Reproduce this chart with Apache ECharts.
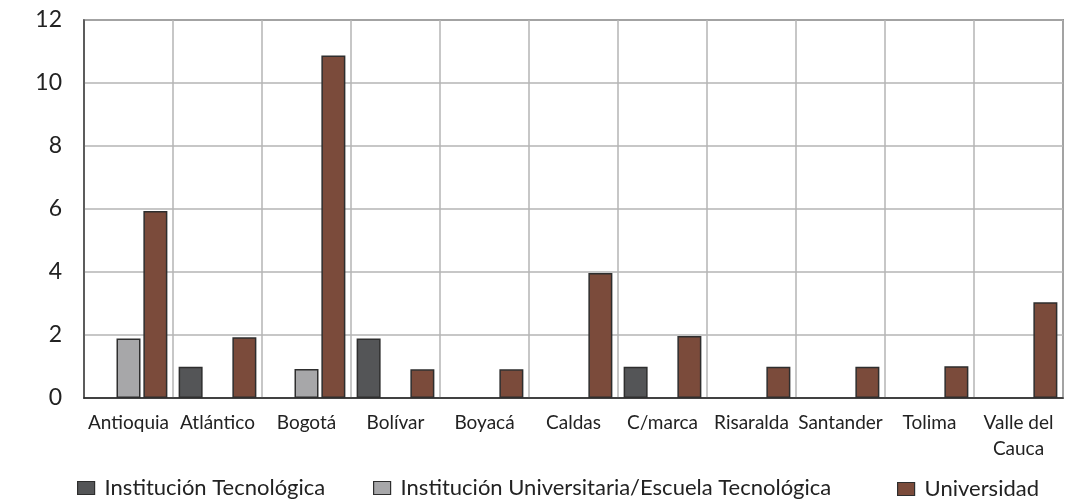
<!DOCTYPE html>
<html>
<head>
<meta charset="utf-8">
<script src="https://cdn.jsdelivr.net/npm/echarts@6/dist/echarts.min.js"></script>
<style>
  html, body { margin: 0; padding: 0; background: #fff; }
  #myCharts { width: 1068px; height: 501px; }
</style>
</head>
<body>
<div id="myCharts"></div>
<script>
    // categorias (departamentos)
    const departamentos = ['Antioquia', 'Atlántico', 'Bogotá', 'Bolívar', 'Boyacá', 'Caldas',
        'C/marca', 'Risaralda', 'Santander', 'Tolima', 'Valle del\nCauca'];
    const seriesNames = ['Institución Tecnológica', 'Institución Universitaria/Escuela Tecnológica', 'Universidad'];
    // valores
    const instTecnologica = [0, 0.99, 0, 1.89, 0, 0, 0.99, 0, 0, 0, 0];
    const instUniversitaria = [1.89, 0, 0.92, 0, 0, 0, 0, 0, 0, 0, 0];
    const universidad = [5.94, 1.93, 10.87, 0.91, 0.91, 3.97, 1.97, 0.99, 0.99, 1.01, 3.04];
    const yTicks = [0, 2, 4, 6, 8, 10, 12];

    const FONT = 'Lato';
    const colors = ['#545557', '#a7a7a9', '#7b4b3b'];

    function barSerie(name, data, color) {
        return {
            name: name,
            type: 'bar',
            barWidth: 24,
            barGap: '12%',
            animation: false,
            itemStyle: {
                color: color,
                borderColor: '#2e2e2e',
                borderWidth: 1.5
            },
            // los ceros no se dibujan
            data: data.map(v => v === 0 ? '-' : v)
        };
    }

    function legendAt(name, left, top, padTop) {
        return {
            data: [name],
            left: left,
            top: top,
            padding: 0,
            icon: 'rect',
            itemWidth: 17,
            itemHeight: 13,
            itemStyle: { borderColor: '#2e2e2e', borderWidth: 1.2 },
            textStyle: {
                fontFamily: FONT, fontSize: 22, lineHeight: 26, color: '#222',
                padding: [padTop, 0, 0, 5]
            }
        };
    }

    const myCharts = echarts.init(document.getElementById('myCharts'));
    let options = {
        backgroundColor: '#fff',
        grid: {
            left: 84, right: 5, top: 20, bottom: 103,
            show: true,
            borderColor: '#444',
            borderWidth: 1.5
        },
        legend: [
            legendAt(seriesNames[0], 77, 475, 0),
            legendAt(seriesNames[1], 373, 475, 0),
            legendAt(seriesNames[2], 897, 470, 12)
        ],
        xAxis: [{
            type: 'category',
            data: departamentos,
            boundaryGap: true,
            axisTick: { show: false },
            axisLine: { lineStyle: { color: '#222', width: 1.5 } },
            axisLabel: {
                interval: 0,
                margin: 12,
                fontFamily: FONT,
                fontSize: 19,
                lineHeight: 26,
                color: '#222'
            },
            splitLine: { show: true, interval: 0, lineStyle: { color: '#b4b4b4', width: 1.5 } }
        }],
        yAxis: [{
            type: 'value',
            min: 0,
            max: 12,
            interval: 2,
            axisLine: { show: true, lineStyle: { color: '#444', width: 1.5 } },
            axisTick: { show: false },
            axisLabel: {
                margin: 22,
                fontFamily: FONT,
                fontSize: 23,
                color: '#222',
                formatter: v => yTicks.includes(v) ? String(v) : ''
            },
            splitLine: { show: true, lineStyle: { color: '#b4b4b4', width: 1.5 } }
        }],
        series: [
            barSerie(seriesNames[0], instTecnologica, colors[0]),
            barSerie(seriesNames[1], instUniversitaria, colors[1]),
            barSerie(seriesNames[2], universidad, colors[2])
        ]
    };
    myCharts.setOption(options);
</script>
</body>
</html>
